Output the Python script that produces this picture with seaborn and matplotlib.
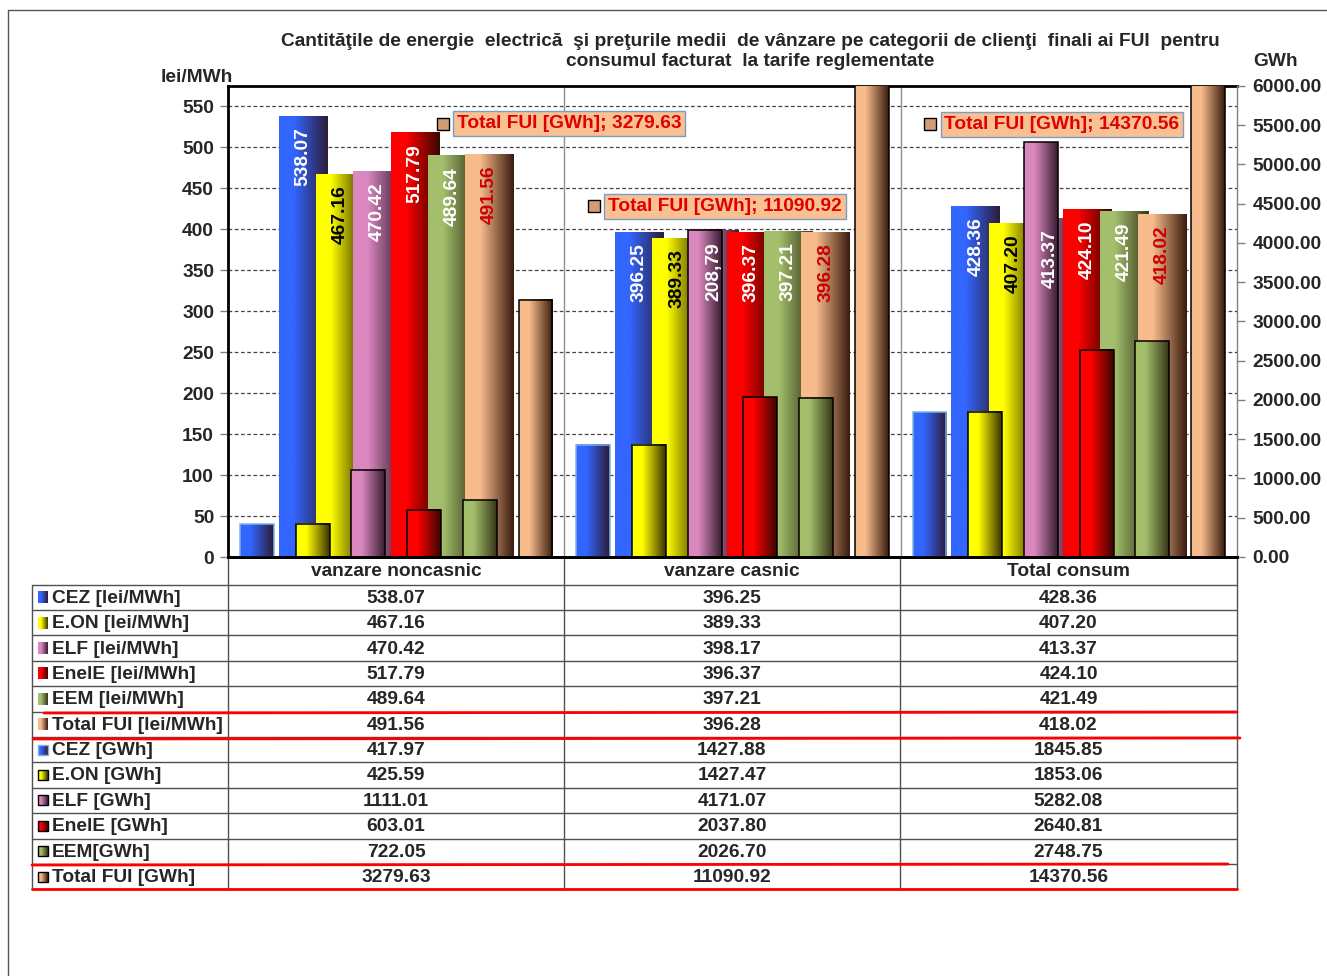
import numpy as np
import pandas as pd
import seaborn as sns
import matplotlib.pyplot as plt
from matplotlib.colors import LinearSegmentedColormap, to_rgb
from matplotlib.patches import Rectangle
from matplotlib.ticker import FormatStrFormatter
from matplotlib.transforms import offset_copy

# --- data ---
categories = ["vanzare noncasnic", "vanzare casnic", "Total consum"]
companies = ["CEZ", "E.ON", "ELF", "EnelE", "EEM", "Total FUI"]

price_cez = [538.07, 396.25, 428.36]
price_eon = [467.16, 389.33, 407.20]
price_elf = [470.42, 398.17, 413.37]
price_enel = [517.79, 396.37, 424.10]
price_eem = [489.64, 397.21, 421.49]
price_total = [491.56, 396.28, 418.02]

gwh_cez = [417.97, 1427.88, 1845.85]
gwh_eon = [425.59, 1427.47, 1853.06]
gwh_elf = [1111.01, 4171.07, 5282.08]
gwh_enel = [603.01, 2037.80, 2640.81]
gwh_eem = [722.05, 2026.70, 2748.75]
gwh_total = [3279.63, 11090.92, 14370.56]

price_rows = ["CEZ [lei/MWh]", "E.ON [lei/MWh]", "ELF [lei/MWh]",
              "EnelE [lei/MWh]", "EEM [lei/MWh]", "Total FUI [lei/MWh]"]
gwh_rows = ["CEZ [GWh]", "E.ON [GWh]", "ELF [GWh]",
            "EnelE [GWh]", "EEM[GWh]", "Total FUI [GWh]"]

# the casnic ELF price bar carries this label on the original chart
label_override = {(1, 2): "208,79"}

price_vals = [price_cez, price_eon, price_elf, price_enel, price_eem, price_total]
gwh_vals = [gwh_cez, gwh_eon, gwh_elf, gwh_enel, gwh_eem, gwh_total]

# --- styles / layout ---
base_colors = ["#3366FF", "#FFFF00", "#DB88C0", "#FF0000", "#A3BF6C", "#F8BC8C"]
dark_colors = ["#2C1C38", "#3C3400", "#3A1E32", "#3A0600", "#363618", "#3A1C0E"]
label_colors = ["white", "black", "white", "white", "white", "#CC0000"]
gwh_edges = ["#7FB2E5", "black", "black", "black", "black", "black"]

W, H = 1327, 976
PLOT_L, PLOT_R, PLOT_T, PLOT_B = 228, 1237, 86, 557
COL_X = [228, 564, 900, 1237]
TABLE_L = 32
ROW_TOP, ROW_H = 584.5, 25.4
FS = 13.8

PRICE_STEP, PRICE_W = 0.1107, 0.1443
GWH_STEP, GWH_W = 0.1657, 0.101
# where the "Total FUI [GWh]" callouts sit (category x, lei/MWh y)
callout_pos = [(0.18, 529), (0.63, 428), (1.63, 528)]

sns.set_theme(style="white")
plt.rcParams["font.family"] = ["Liberation Sans", "DejaVu Sans"]
plt.rcParams["font.weight"] = "bold"

GRAD = np.linspace(0, 1, 64).reshape(1, -1)
cmaps = [LinearSegmentedColormap.from_list(f"g{k}", [(0, base_colors[k]), (0.3, base_colors[k]),
                                                       (1, dark_colors[k])])
         for k in range(len(companies))]


def which_company(bar):
    fc = np.array(bar.get_facecolor()[:3])
    d = [np.sum((fc - np.array(to_rgb(c))) ** 2) for c in base_colors]
    return int(np.argmin(d))


def shape_bars(axis, bar_w, outlined):
    found = []
    for cont in axis.containers:
        for bar in cont:
            k = which_company(bar)
            cx = bar.get_x() + bar.get_width() / 2
            bar.set_x(cx - bar_w / 2)
            bar.set_width(bar_w)
            x0, h = bar.get_x(), bar.get_height()
            z = 2 + 0.1 * k
            axis.imshow(GRAD, cmap=cmaps[k], extent=[x0, x0 + bar_w, 0, h], aspect="auto",
                        origin="lower", interpolation="bilinear", zorder=z)
            bar.set_facecolor("none")
            bar.set_zorder(z + 0.05)
            if outlined:
                bar.set_edgecolor(gwh_edges[k])
                bar.set_linewidth(1.1)
            else:
                bar.set_linewidth(0)
            found.append((k, int(round(cx)), cx, bar))
    return found


df_price = pd.DataFrame([(c, comp, vals[i]) for comp, vals in zip(companies, price_vals)
                         for i, c in enumerate(categories)],
                        columns=["categorie", "furnizor", "valoare"])
df_gwh = pd.DataFrame([(c, comp, vals[i]) for comp, vals in zip(companies, gwh_vals)
                       for i, c in enumerate(categories)],
                      columns=["categorie", "furnizor", "valoare"])

fig = plt.figure(figsize=(W / 100, H / 100), dpi=100)
ax_t = fig.add_axes([0, 0, 1, 1], zorder=0)
ax_t.set_xlim(0, W)
ax_t.set_ylim(H, 0)
ax_t.axis("off")

ax = fig.add_axes([PLOT_L / W, 1 - PLOT_B / H, (PLOT_R - PLOT_L) / W, (PLOT_B - PLOT_T) / H], zorder=1)
ax.patch.set_alpha(0)

sns.barplot(data=df_price, x="categorie", y="valoare", hue="furnizor", order=categories,
            hue_order=companies, palette=base_colors, saturation=1, errorbar=None,
            width=PRICE_STEP * 6, legend=False, ax=ax)
price_bars = shape_bars(ax, PRICE_W, outlined=False)

ax2 = ax.twinx()
sns.barplot(data=df_gwh, x="categorie", y="valoare", hue="furnizor", order=categories,
            hue_order=companies, palette=base_colors, saturation=1, errorbar=None,
            width=GWH_STEP * 6, legend=False, ax=ax2)
shape_bars(ax2, GWH_W, outlined=True)

# value labels inside the price bars
for k, i, cx, bar in price_bars:
    txt = label_override.get((i, k), f"{price_vals[k][i]:.2f}")
    ax2.annotate(txt, xy=(cx, price_vals[k][i]), xycoords=ax.transData, xytext=(0, -8),
                 textcoords="offset points", rotation=90, ha="center", va="top",
                 fontsize=FS, color=label_colors[k], zorder=10)

# Total FUI [GWh] callouts
for i, (lx, ly) in enumerate(callout_pos):
    ax2.text(lx, ly, f"Total FUI [GWh]; {gwh_total[i]:.2f}", transform=ax.transData,
             ha="left", va="center", fontsize=FS, color="#E00000", zorder=11,
             bbox=dict(boxstyle="square,pad=0.2", fc="#F9C092", ec="#7A9CCB", lw=1))
    ax2.plot([lx], [ly], marker="s", ms=8, mfc="#D39C74", mec="black", mew=1, clip_on=False,
             transform=offset_copy(ax.transData, fig=fig, x=-14, y=0, units="dots"), zorder=11)

# axes styling
ax.set_xlim(-0.5, 2.5)
ax.set_ylim(0, 575)
ax2.set_ylim(0, 6000)
ax.set_yticks(np.arange(0, 551, 50))
ax2.set_yticks(np.arange(0, 6001, 500))
ax2.yaxis.set_major_formatter(FormatStrFormatter("%.2f"))
ax.set_axisbelow(True)
ax.yaxis.grid(True, color="#444444", linestyle=(0, (3, 2)), linewidth=0.9)
ax.xaxis.grid(False)
for xb in (0.5, 1.5):
    ax.axvline(xb, color="#909090", lw=1, zorder=1)
for a in (ax, ax2):
    a.set_xlabel("")
    a.set_ylabel("")
    a.tick_params(axis="x", bottom=False, labelbottom=False)
ax.tick_params(axis="y", direction="out", length=6, width=1, color="#808080", pad=4, labelsize=FS)
ax2.tick_params(axis="y", direction="out", length=6, width=1, color="#808080", pad=5, labelsize=FS)
for s in ("left", "top", "bottom"):
    ax.spines[s].set_color("black")
    ax.spines[s].set_linewidth(2)
ax.spines["right"].set_visible(False)
ax2.spines["left"].set_visible(False)
ax2.spines["top"].set_visible(False)
ax2.spines["bottom"].set_color("black")
ax2.spines["bottom"].set_linewidth(2)
ax2.spines["right"].set_color("#808080")
ax2.spines["right"].set_linewidth(1)

fig.text(750 / W, 1 - 41 / H, "Cantităţile de energie  electrică  şi preţurile medii  de vânzare pe "
         "categorii de clienţi  finali ai FUI  pentru", ha="center", va="center", fontsize=FS)
fig.text(750 / W, 1 - 62 / H, "consumul facturat  la tarife reglementate",
         ha="center", va="center", fontsize=FS)
fig.text(197 / W, 1 - 78 / H, "lei/MWh", ha="center", va="center", fontsize=FS)
fig.text(1253 / W, 1 - 61 / H, "GWh", ha="left", va="center", fontsize=FS)

# --- data table ---
grid_c = "#505050"
n_rows = len(price_rows) + len(gwh_rows)
table_bottom = ROW_TOP + n_rows * ROW_H
for xc in COL_X:
    ax_t.plot([xc, xc], [PLOT_B, table_bottom], color=grid_c, lw=1)
ax_t.plot([TABLE_L, TABLE_L], [ROW_TOP, table_bottom], color=grid_c, lw=1)
for r in range(n_rows + 1):
    yy = ROW_TOP + r * ROW_H
    ax_t.plot([TABLE_L, COL_X[-1]], [yy, yy], color=grid_c, lw=1)

for i, cat in enumerate(categories):
    ax_t.text((COL_X[i] + COL_X[i + 1]) / 2, (PLOT_B + ROW_TOP) / 2 + 1, cat,
              ha="center", va="center", fontsize=FS)

row_labels = price_rows + gwh_rows
row_vals = price_vals + gwh_vals
for r, (lab, vals) in enumerate(zip(row_labels, row_vals)):
    yc = ROW_TOP + (r + 0.5) * ROW_H
    k = r % len(companies)
    if r < len(price_rows):
        x0, x1, hh = 38, 48, 6
    else:
        x0, x1, hh = 38, 48, 5
    ax_t.imshow(GRAD, cmap=cmaps[k], extent=[x0, x1, yc + hh, yc - hh], aspect="auto",
                interpolation="bilinear", zorder=3)
    if r >= len(price_rows):
        ax_t.add_patch(Rectangle((x0, yc - hh), x1 - x0, 2 * hh, fill=False,
                                 ec=gwh_edges[k], lw=1, zorder=4))
    ax_t.text(52, yc + 1, lab, ha="left", va="center", fontsize=FS)
    for i in range(len(categories)):
        ax_t.text((COL_X[i] + COL_X[i + 1]) / 2, yc + 1, f"{vals[i]:.2f}",
                  ha="center", va="center", fontsize=FS)

# red separator strokes drawn over the table
red_lines = [((44, 713), (1237, 712)), ((33, 739), (1240, 738)),
             ((32, 865), (1228, 864)), ((32, 889), (1237, 889))]
for (xa, ya), (xb, yb) in red_lines:
    ax_t.plot([xa, xb], [ya, yb], color="#FF0000", lw=2, zorder=5)

# outer chart border
ax_t.plot([8, 8], [10, H], color="#555555", lw=1)
ax_t.plot([8, W], [10, 10], color="#555555", lw=1)
ax_t.set_xlim(0, W)
ax_t.set_ylim(H, 0)

fig.savefig("out.png", dpi=100)
